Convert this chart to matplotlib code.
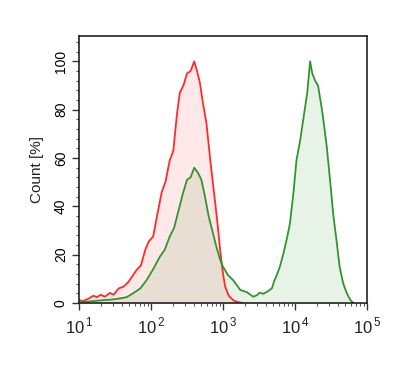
import numpy as np
import matplotlib
matplotlib.use("Agg")
import matplotlib.pyplot as plt
from matplotlib.ticker import MultipleLocator, LogLocator, FixedLocator

plt.rcParams['font.family'] = ['Liberation Sans', 'DejaVu Sans']
plt.rcParams['mathtext.fontset'] = 'custom'
plt.rcParams['mathtext.rm'] = 'Liberation Sans'

# log10 of fluorescence, count [%]
red_logx = [1.00, 1.05, 1.12, 1.20, 1.25, 1.30, 1.36, 1.43, 1.48, 1.55, 1.62, 1.68,
            1.74, 1.80, 1.86, 1.92, 1.97, 2.03, 2.09, 2.15, 2.20, 2.26, 2.31, 2.36,
            2.40, 2.45, 2.50, 2.55, 2.60, 2.64, 2.68, 2.72, 2.77, 2.82, 2.87, 2.92,
            2.96, 3.00, 3.03, 3.08, 3.14, 3.20, 3.28]
red_val = [1.2, 0.8, 1.6, 3.0, 2.4, 3.4, 2.6, 4.2, 3.4, 6.0, 6.8, 8.5,
           11.0, 13.7, 15.5, 22.0, 25.5, 27.5, 37.0, 46.0, 50.0, 59.0, 63.0, 78.0,
           87.0, 90.0, 95.0, 96.0, 100.0, 96.0, 91.0, 83.0, 74.5, 60.0, 47.0, 34.0,
           22.0, 12.0, 6.8, 3.0, 1.2, 0.4, 0.0]

green_logx = [1.00, 1.10, 1.20, 1.34, 1.45, 1.57, 1.66, 1.75, 1.85, 1.94, 2.03, 2.12,
              2.19, 2.26, 2.32, 2.38, 2.44, 2.50, 2.55, 2.60, 2.65, 2.70, 2.75, 2.80,
              2.86, 2.91, 2.96, 3.00, 3.07, 3.14, 3.24, 3.33, 3.42, 3.47, 3.51, 3.56,
              3.62, 3.68, 3.71, 3.74, 3.79, 3.84, 3.89, 3.93, 3.98, 4.02, 4.07, 4.12,
              4.17, 4.21, 4.24, 4.28, 4.32, 4.38, 4.44, 4.49, 4.53, 4.58, 4.62, 4.67,
              4.72, 4.77, 4.81]
green_val = [0.3, 0.5, 0.8, 1.2, 1.4, 1.9, 2.4, 4.0, 6.0, 9.5, 14.0, 19.0,
             22.0, 27.5, 31.0, 38.0, 45.0, 51.0, 52.0, 56.0, 54.0, 51.0, 44.0, 36.0,
             29.0, 23.0, 18.0, 15.0, 11.5, 9.5, 5.4, 4.5, 2.6, 3.2, 4.3, 3.8,
             4.8, 6.1, 9.0, 11.0, 15.0, 20.6, 27.0, 33.0, 46.0, 59.0, 67.0, 77.0,
             87.0, 100.0, 95.0, 92.0, 90.0, 79.0, 65.0, 50.0, 37.0, 25.0, 15.0, 8.0,
             4.0, 1.2, 0.0]

red_x = 10 ** np.array(red_logx)
green_x = 10 ** np.array(green_logx)

fig = plt.figure(figsize=(4.08, 3.73), dpi=100)
ax = fig.add_axes([79 / 408, 70 / 373, 288 / 408, 267 / 373])

ax.fill_between(red_x, red_val, 0, color='#ff0000', alpha=0.09, lw=0)
ax.fill_between(green_x, green_val, 0, color='#008000', alpha=0.09, lw=0)
ax.plot(red_x, red_val, color='#ff2a2a', lw=1.3)
ax.plot(green_x, green_val, color='#2f962f', lw=1.3)

ax.set_xscale('log')
ax.set_xlim(10, 1e5)
ax.set_ylim(0, 110.5)

ax.xaxis.set_major_locator(FixedLocator([1e1, 1e2, 1e3, 1e4, 1e5]))
ax.xaxis.set_minor_locator(LogLocator(base=10, subs=np.arange(2, 10), numticks=20))
ax.set_xticklabels([r'$10^{\,1}$', r'$10^{\,2}$', r'$10^{\,3}$', r'$10^{\,4}$', r'$10^{\,5}$'])
ax.yaxis.set_major_locator(MultipleLocator(20))
ax.yaxis.set_minor_locator(MultipleLocator(4))

ax.tick_params(axis='both', which='major', length=5, width=1, color='#333333',
               labelsize=10, pad=3)
ax.tick_params(axis='both', which='minor', length=2.5, width=0.8, color='#555555')
ax.tick_params(axis='x', labelsize=12, pad=4, labelcolor='#222222')
for lab in ax.get_yticklabels():
    lab.set_rotation(90)
    lab.set_va('center')

for s in ax.spines.values():
    s.set_linewidth(1.2)
    s.set_color('#222222')

ax.set_ylabel('Count [%]', fontsize=11, color='#222222', labelpad=7)

fig.savefig('out.png', dpi=100)
